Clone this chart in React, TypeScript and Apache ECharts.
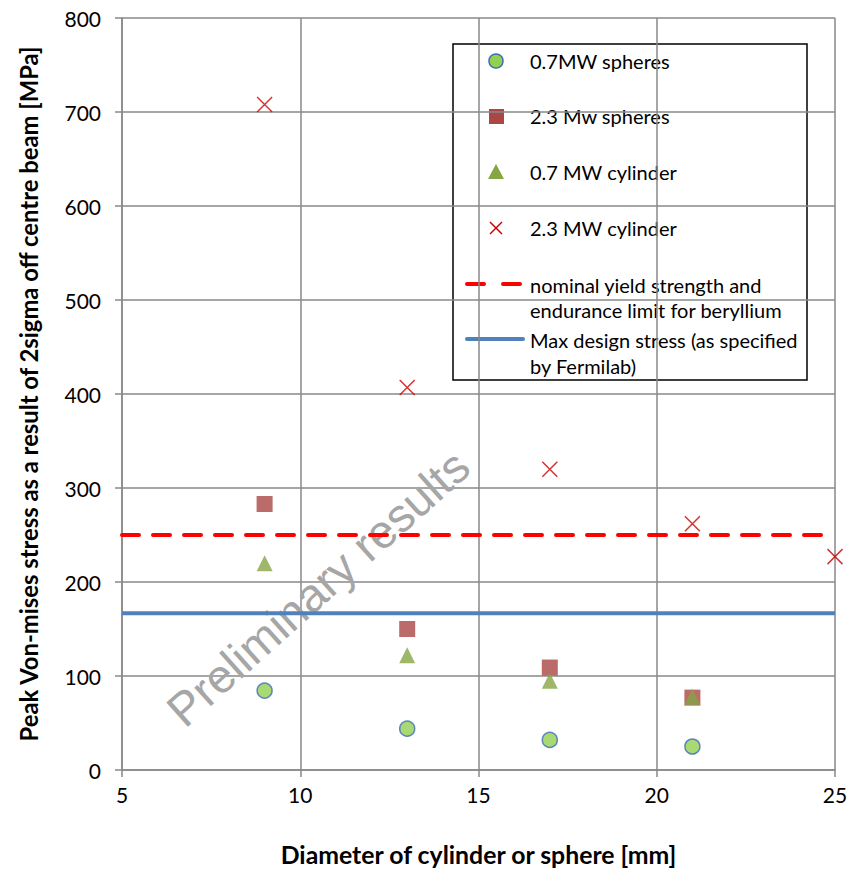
import React, { useEffect, useRef } from "react";
import * as echarts from "echarts";

const diameters = [9, 13, 17, 21];
const diametersCyl23 = [9, 13, 17, 21, 25];
const spheres07 = [84.5, 44, 32, 25];
const spheres23 = [283, 150, 109, 77];
const cylinder07 = [220, 122, 95, 78];
const cylinder23 = [708, 407, 320, 262, 227];
const yieldStrength = 250;
const maxDesignStress = 166.7;
const xRange = [5, 25];

const FONT = "Lato, 'Open Sans', sans-serif";
const CROSS = "path://M0,0L10,10M10,0L0,10";

export default function App() {
  const ref = useRef<HTMLDivElement>(null);
  useEffect(() => {
    if (!ref.current) return;
    const chart = echarts.init(ref.current, null, { renderer: "svg" });
    const pair = (xs: number[], ys: number[]) => xs.map((x, i) => [x, ys[i]]);
    const lx = 467, tx = 530;
    const legendTextStyle = { fill: "#000", fontSize: 20, fontFamily: FONT, verticalAlign: "middle" as const };
    chart.setOption({
      animation: false,
      backgroundColor: "#fff",
      grid: { left: 122, right: 25, top: 18, bottom: 103 },
      xAxis: {
        type: "value",
        min: 5,
        max: 25,
        interval: 5,
        name: "Diameter of cylinder or sphere [mm]",
        nameLocation: "middle",
        nameGap: 72,
        nameTextStyle: { fontFamily: FONT, fontWeight: "bold", fontSize: 24.8, color: "#000" },
        axisLine: { show: true, onZero: false, lineStyle: { color: "#888", width: 1.5 } },
        axisTick: { show: true, length: 7, lineStyle: { color: "#888", width: 1.5 } },
        axisLabel: { fontFamily: FONT, fontSize: 21, color: "#000", margin: 14 },
        splitLine: { show: true, lineStyle: { color: "#888", width: 1.5 } },
      },
      yAxis: {
        type: "value",
        min: 0,
        max: 800,
        interval: 100,
        name: "Peak Von-mises stress as a result of 2sigma off centre beam [MPa]",
        nameLocation: "middle",
        nameGap: 81,
        nameTextStyle: { fontFamily: FONT, fontWeight: "bold", fontSize: 23.8, color: "#000" },
        axisLine: { show: true, lineStyle: { color: "#888", width: 1.5 } },
        axisTick: { show: true, length: 7, lineStyle: { color: "#888", width: 1.5 } },
        axisLabel: { fontFamily: FONT, fontSize: 21, color: "#000", margin: 21 },
        splitLine: { show: true, lineStyle: { color: "#888", width: 1.5 } },
      },
      series: [
        {
          name: "nominal yield strength and endurance limit for beryllium",
          type: "line",
          data: xRange.map((x) => [x, yieldStrength]),
          symbol: "none",
          lineStyle: { color: "#ff0000", width: 4, type: [17, 14], cap: "round" },
          z: 2,
        },
        {
          name: "Max design stress (as specified by Fermilab)",
          type: "line",
          data: xRange.map((x) => [x, maxDesignStress]),
          symbol: "none",
          lineStyle: { color: "#4f81bd", width: 4 },
          z: 2,
        },
        {
          name: "0.7MW spheres",
          type: "scatter",
          data: pair(diameters, spheres07),
          symbol: "circle",
          symbolSize: 15,
          itemStyle: { color: "#92d050", borderColor: "#3e6cb5", borderWidth: 1.5 },
          z: 3,
        },
        {
          name: "2.3 Mw spheres",
          type: "scatter",
          data: pair(diameters, spheres23),
          symbol: "rect",
          symbolSize: 16,
          itemStyle: { color: "#aa4643" },
          z: 3,
        },
        {
          name: "0.7 MW cylinder",
          type: "scatter",
          data: pair(diameters, cylinder07),
          symbol: "triangle",
          symbolSize: 16,
          itemStyle: { color: "#86a543" },
          z: 4,
        },
        {
          name: "2.3 MW cylinder",
          type: "scatter",
          data: pair(diametersCyl23, cylinder23),
          symbol: CROSS,
          symbolSize: 15,
          itemStyle: { color: "none", borderColor: "#cc0000", borderWidth: 1.5 },
          z: 3,
        },
      ],
      graphic: [
        {
          type: "text",
          x: 318,
          y: 588,
          rotation: 0.73,
          z: 1,
          style: {
            text: "Preliminary results",
            fontFamily: "'Liberation Sans', Arial, sans-serif",
            fontSize: 47,
            fill: "#a6a6a6",
            align: "center",
            verticalAlign: "middle",
          },
        },
        {
          type: "group",
          z: 10,
          children: [
            {
              type: "rect",
              shape: { x: 453, y: 44, width: 354, height: 336 },
              style: { fill: "#fff", stroke: "#000", lineWidth: 1.5 },
            },
            { type: "circle", shape: { cx: 496, cy: 61, r: 7 }, style: { fill: "#92d050", stroke: "#3e6cb5", lineWidth: 1.5 } },
            { type: "text", x: tx, y: 61, style: { ...legendTextStyle, text: "0.7MW spheres" } },
            { type: "rect", shape: { x: 489, y: 109, width: 15, height: 15 }, style: { fill: "#aa4643" } },
            { type: "text", x: tx, y: 116, style: { ...legendTextStyle, text: "2.3 Mw spheres" } },
            { type: "polygon", shape: { points: [[496, 164], [504, 179], [488, 179]] }, style: { fill: "#86a543" } },
            { type: "text", x: tx, y: 172, style: { ...legendTextStyle, text: "0.7 MW cylinder" } },
            { type: "line", shape: { x1: 490, y1: 222, x2: 502, y2: 234 }, style: { stroke: "#cc0000", lineWidth: 1.5 } },
            { type: "line", shape: { x1: 502, y1: 222, x2: 490, y2: 234 }, style: { stroke: "#cc0000", lineWidth: 1.5 } },
            { type: "text", x: tx, y: 228, style: { ...legendTextStyle, text: "2.3 MW cylinder" } },
            { type: "line", shape: { x1: lx, y1: 284, x2: 521, y2: 284 }, style: { stroke: "#ff0000", lineWidth: 4, lineDash: [17, 19], lineCap: "round" } },
            { type: "text", x: tx, y: 285, style: { ...legendTextStyle, text: "nominal yield strength and" } },
            { type: "text", x: tx, y: 310, style: { ...legendTextStyle, text: "endurance limit for beryllium" } },
            { type: "line", shape: { x1: lx, y1: 339, x2: 523, y2: 339 }, style: { stroke: "#4f81bd", lineWidth: 4, lineCap: "round" } },
            { type: "text", x: tx, y: 340, style: { ...legendTextStyle, text: "Max design stress (as specified" } },
            { type: "text", x: tx, y: 366, style: { ...legendTextStyle, text: "by Fermilab)" } },
          ],
        },
      ],
    });
    return () => chart.dispose();
  }, []);
  return <div ref={ref} style={{ position: "fixed", left: 0, top: 0, width: 860, height: 873 }} />;
}
